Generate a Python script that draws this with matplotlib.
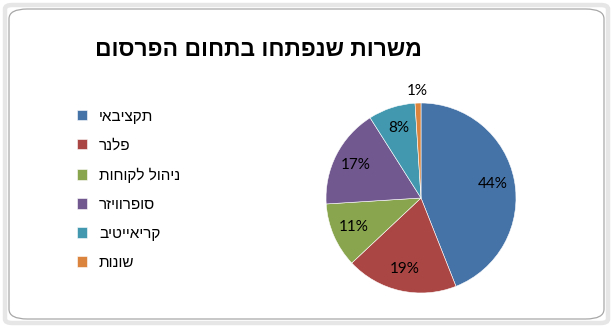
import matplotlib
matplotlib.use("Agg")
import matplotlib.pyplot as plt
from matplotlib.patches import FancyBboxPatch
import numpy as np

TITLE = "משרות שנפתחו בתחום הפרסום"
categories = ["תקציבאי", "פלנר", "ניהול לקוחות", "סופרוויזר", "קריאייטיב", "שונות"]
shares = [44, 19, 11, 17, 8, 1]
colors = ["#4572A7", "#AA4643", "#89A54E", "#71588F", "#4198AF", "#DB843D"]


def visual(text):
    # matplotlib lays glyphs out left to right, so Hebrew is reversed for display
    return text[::-1]


W, H = 613, 328
fig = plt.figure(figsize=(W / 100, H / 100), dpi=100)
fig.patch.set_facecolor("white")

# chart-area frame
outer = FancyBboxPatch((5 / W, 5 / H), 1 - 10 / W, 1 - 10 / H,
                       boxstyle="round,pad=0,rounding_size=0.012",
                       transform=fig.transFigure, facecolor="none",
                       edgecolor="#e6e6e6", lw=3.2, zorder=0)
inner = FancyBboxPatch((9 / W, 9 / H), 1 - 18 / W, 1 - 18 / H,
                       boxstyle="round,pad=0,rounding_size=0.03",
                       transform=fig.transFigure, facecolor="none",
                       edgecolor="#a8a8a8", lw=0.9, zorder=0)
fig.patches.extend([outer, inner])

fig.text(258 / W, 1 - 50 / H, visual(TITLE), ha="center", va="center",
         fontsize=16.5, fontweight="bold", family="Liberation Sans")

# pie, centre (421, 198) px, radius 95 px
cx, cy, r = 421, 198, 95
ax = fig.add_axes([(cx - r) / W, (H - cy - r) / H, 2 * r / W, 2 * r / H])
wedges, texts, autotexts = ax.pie(
    shares, colors=colors, startangle=90, counterclock=False,
    autopct="%d%%", pctdistance=0.77, radius=1,
    wedgeprops=dict(edgecolor="white", linewidth=0.4),
    textprops=dict(fontsize=11, family="Lato", color="black"))
ax.set_xlim(-1, 1)
ax.set_ylim(-1, 1)
ax.set_aspect("equal")
ax.axis("off")

# the smallest slice gets its label just outside the rim
small = int(np.argmin(shares))
w = wedges[small]
mid = np.deg2rad((w.theta1 + w.theta2) / 2)
autotexts[small].set_position((1.13 * np.cos(mid), 1.13 * np.sin(mid)))

leg = fig.legend(wedges, [visual(c) for c in categories],
                 loc="upper left", bbox_to_anchor=(63 / W, 1 - 96 / H),
                 frameon=False, handlelength=0.65, handleheight=0.65,
                 handletextpad=0.8, labelspacing=0.98,
                 prop=dict(family="Liberation Sans", size=11))

fig.savefig("out.png", dpi=100)
